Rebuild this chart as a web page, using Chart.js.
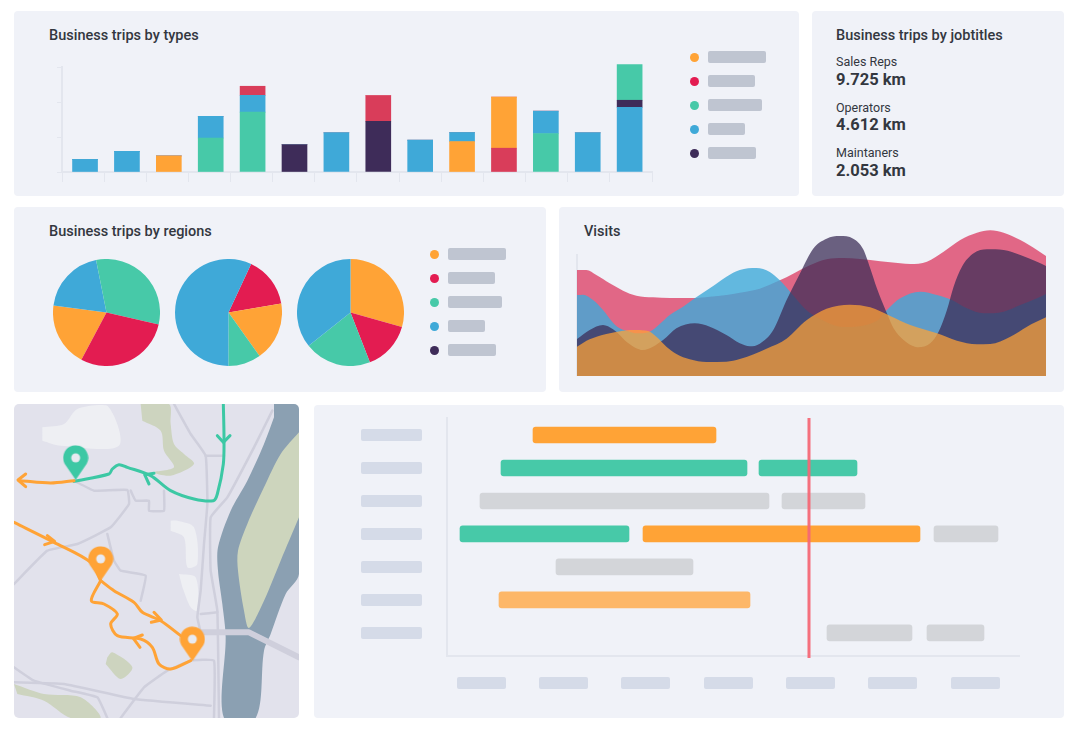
<!DOCTYPE html>
<html>
<head>
<meta charset="utf-8">
<title>Business trips dashboard</title>
<script src="https://cdn.jsdelivr.net/npm/chart.js@4/dist/chart.umd.min.js"></script>
<style>
html, body { margin: 0; padding: 0; background: #fff; }
body { width: 1076px; height: 729px; position: relative; overflow: hidden; font-family: Roboto, sans-serif; color: #33373f; }
.card { position: absolute; background: #f0f2f8; border-radius: 4px; }
.title { position: absolute; font-size: 14.5px; font-weight: 500; line-height: 18px; white-space: nowrap; }
.small { position: absolute; font-size: 12.5px; line-height: 16px; white-space: nowrap; }
.big { position: absolute; font-size: 16.5px; font-weight: 700; line-height: 20px; white-space: nowrap; }
.dot { position: absolute; width: 9px; height: 9px; border-radius: 50%; }
.stub { position: absolute; border-radius: 2px; }
canvas { position: absolute; display: block; }
</style>
</head>
<body>
<div class="card" style="left:14px;top:11px;width:785px;height:185px"></div>
<div class="card" style="left:812px;top:11px;width:252px;height:185px"></div>
<div class="card" style="left:14px;top:207px;width:532px;height:185px"></div>
<div class="card" style="left:559px;top:207px;width:505px;height:185px"></div>
<div class="card" style="left:314px;top:405px;width:750px;height:313px"></div>

<div class="title" style="left:49px;top:27px">Business trips by types</div>
<div class="title" style="left:836px;top:27px">Business trips by jobtitles</div>
<div class="title" style="left:49px;top:223px">Business trips by regions</div>
<div class="title" style="left:584px;top:223px">Visits</div>

<canvas id="typesChart" width="602" height="122" style="left:52px;top:60px"></canvas>
<canvas id="regionChart1" width="107" height="107" style="left:53px;top:259px"></canvas>
<canvas id="regionChart2" width="107" height="107" style="left:175px;top:259px"></canvas>
<canvas id="regionChart3" width="107" height="107" style="left:297px;top:259px"></canvas>
<canvas id="visitsChart" width="471" height="150" style="left:575px;top:226px"></canvas>
<canvas id="mapChart" width="285" height="314" style="left:14px;top:404px;border-radius:5px"></canvas>
<canvas id="ganttChart" width="583" height="256" style="left:437px;top:410px"></canvas>

<script>
const orange = '#ffa336';
const red = '#d93d5a';
const pieRed = '#e31c51';
const green = '#47c9a8';
const blue = '#3fa9d8';
const dark = '#3e2c59';
const grey = '#d3d5d9';
const paleOrange = '#fdb768';
const axisColor = '#e3e6ee';

// stacked bars. layers go from the bottom of the bar up
const tripCategories = [1, 2, 3, 4, 5, 6, 7, 8, 9, 10, 11, 12, 13, 14];
const bottomValues = [3.6, 5.9, 4.6, 9.7, 17.1, 7.8, 11.2, 14.5, 9.1, 8.7, 6.8, 11, 11.2, 18.5];
const bottomColors = [blue, blue, orange, green, green, dark, blue, dark, blue, orange, red, green, blue, blue];
const middleValues = [0, 0, 0, 6.2, 4.8, 0, 0, 7.3, 0, 2.6, 14.6, 6.4, 0, 2];
const middleColors = [blue, blue, blue, blue, blue, blue, blue, red, blue, blue, orange, blue, blue, dark];
const topValues = [0, 0, 0, 0, 2.6, 0, 0, 0, 0, 0, 0, 0, 0, 10.2];
const topColors = [red, red, red, red, red, red, red, red, red, red, red, red, red, green];
const tripTicks = [0.45, 1.456, 2.462, 3.468, 4.474, 5.48, 6.486, 7.492, 8.498, 9.504, 10.51, 11.516, 12.522, 13.528, 14.534];

// pies, clockwise from the start angle
const region1Values = [19.3, 19.8, 31.7, 29.2];
const region1Colors = [orange, blue, green, pieRed];
const region1Start = 208;
const region2Values = [15.4, 17.8, 9.9, 56.9];
const region2Colors = [pieRed, orange, green, blue];
const region2Start = 25;
const region3Values = [29.4, 14.7, 20.2, 35.7];
const region3Colors = [orange, pieRed, green, blue];
const region3Start = 0;

// visits, each curve has its own sample positions
const visitsRedX = [0, 28, 58, 98, 138, 178, 228, 278, 348, 398, 448, 488, 548, 608, 648, 698, 748, 798, 848, 879, 939, 999, 1049, 1099, 1149, 1199, 1239, 1279, 1329, 1379, 1406];
const visitsRedY = [318, 318, 303, 278, 256, 241, 236, 234, 234, 238, 243, 250, 262, 287, 307, 332, 350, 354, 351, 348, 341, 336, 343, 373, 408, 430, 437, 430, 408, 378, 360];
const visitsBlueX = [0, 18, 48, 78, 108, 128, 158, 178, 218, 248, 278, 318, 353, 398, 448, 488, 538, 578, 608, 648, 688, 718, 798, 898, 929, 969, 1029, 1079, 1124, 1169, 1219, 1279, 1329, 1379, 1406];
const visitsBlueY = [243, 244, 228, 198, 160, 143, 133, 128, 133, 156, 183, 208, 233, 263, 298, 318, 324, 312, 287, 242, 197, 177, 147, 165, 198, 233, 253, 243, 228, 203, 188, 193, 213, 233, 246];
const visitsDarkX = [0, 38, 78, 108, 128, 148, 198, 258, 298, 353, 398, 448, 488, 518, 548, 588, 628, 668, 708, 748, 788, 828, 858, 879, 899, 929, 949, 979, 1024, 1059, 1084, 1109, 1129, 1154, 1189, 1229, 1279, 1329, 1379, 1406];
const visitsDarkY = [111, 138, 153, 140, 123, 103, 78, 108, 143, 158, 148, 123, 98, 89, 97, 137, 227, 307, 382, 412, 420, 412, 380, 323, 263, 188, 143, 108, 86, 98, 133, 198, 268, 328, 368, 380, 378, 363, 343, 330];
const visitsOrangeX = [0, 38, 88, 138, 178, 213, 238, 268, 298, 338, 388, 448, 488, 568, 628, 688, 748, 818, 879, 939, 999, 1079, 1139, 1199, 1239, 1299, 1349, 1406];
const visitsOrangeY = [88, 110, 126, 136, 138, 135, 118, 88, 66, 50, 42, 43, 51, 82, 112, 167, 202, 214, 206, 180, 153, 128, 106, 95, 96, 118, 148, 176];
const visitsAxisTop = 366;

// gantt
const taskRows = [1, 2, 2, 3, 3, 4, 4, 4, 5, 6, 7, 7];
const taskStarts = [86, 54, 312, 33, 335, 13, 196, 487, 109, 52, 380, 480];
const taskEnds = [269, 300, 410, 322, 418, 182, 473, 551, 246, 303, 465, 537];
const taskColors = [orange, green, green, grey, grey, green, orange, grey, grey, paleOrange, grey, grey];
const todayMark = 362;

// map shapes, in map units
const river = [[780,0],[855,0],[855,510],[815,570],[770,690],[750,740],[725,942],[630,942],[635,700],[625,600],[612,500],[612,430],[650,320],[700,230],[750,120],[780,40]];
const island = [[855,85],[800,150],[750,250],[700,360],[672,440],[672,500],[690,620],[705,672],[750,590],[800,470],[855,340]];
const whiteAreas = [
  [[85,70],[150,60],[190,15],[280,5],[315,125],[140,125],[85,110]],
  [[470,350],[490,350],[540,370],[550,480],[520,490],[510,400],[470,380]],
  [[495,510],[545,520],[550,620],[530,610],[505,550]]
];
const parks = [
  [[380,0],[465,0],[470,60],[480,120],[510,150],[540,180],[470,215],[420,205],[480,190],[450,140],[440,80],[385,50]],
  [[280,760],[295,745],[355,790],[320,825],[275,780]],
  [[0,840],[90,870],[200,880],[260,942],[170,942],[90,890],[10,870]]
];
const roads = [
  [[480,0],[530,90],[575,155],[580,300],[570,420],[560,560],[550,640],[560,685]],
  [[775,20],[720,130],[640,280],[590,340],[590,500],[610,620],[615,942]],
  [[180,230],[240,260],[340,258],[345,300],[290,370],[190,420],[100,440],[0,540]],
  [[350,260],[365,290],[405,290],[405,320],[450,320],[450,260]],
  [[280,390],[300,470],[320,500],[395,515],[380,590]],
  [[575,155],[630,155]],
  [[0,790],[60,830],[170,860],[250,880],[280,942]],
  [[0,835],[150,840],[360,885],[590,905]],
  [[320,942],[390,850],[460,800],[530,770],[600,770],[600,942]],
  [[560,630],[610,625]]
];
const bridge = [[560,685],[705,685],[855,760]];
const greenRoute = [[628,0],[630,100],[628,180],[610,270],[598,290],[540,285],[470,260],[410,215],[340,190],[315,182],[295,195],[285,210],[180,232]];
const orangeRoutes = [
  [[180,230],[110,237],[20,230]],
  [[0,355],[120,415],[230,475],[260,530]],
  [[260,530],[300,560],[360,595],[385,625],[440,650],[500,695]],
  [[260,530],[232,590],[270,600],[310,630],[290,660],[310,695],[380,705],[415,730],[435,780],[470,795],[530,770]]
];
const greenArrows = [
  [[610,95],[628,115],[648,95]],
  [[420,208],[392,212],[405,240]]
];
const orangeArrows = [
  [[35,210],[12,228],[35,248]],
  [[100,395],[122,412],[92,422]],
  [[420,625],[442,648],[412,655]],
  [[385,693],[358,703],[378,730]]
];
const greenPins = [[185,175]];
const orangePins = [[260,478],[535,719]];

// the grey stand-ins for labels
const legendStubs = [58, 47, 54, 37, 48];
const legendColors = [orange, pieRed, green, blue, dark];
const ganttStubsLeft = [457, 539, 621, 704, 786, 868, 951];
const ganttStubRows = [435, 468, 501, 534, 567, 600, 633];

function addEl(cls, left, top, width, height, color) {
    const el = document.createElement('div');
    el.className = cls;
    el.style.cssText = `left:${left}px;top:${top}px;width:${width}px;height:${height}px;background:${color}`;
    document.body.appendChild(el);
}

function addLegend(dotX, firstY) {
    legendStubs.forEach((w, i) => {
        const y = firstY + i * 24;
        addEl('dot', dotX - 4.5, y - 4.5, 9, 9, legendColors[i]);
        addEl('stub', dotX + 14, y - 6, w, 12, '#bfc5d1');
    });
}
addLegend(694, 57);
addLegend(434, 254);
ganttStubRows.forEach(y => addEl('stub', 361, y - 6, 61, 12, '#d5dbe8'));
ganttStubsLeft.forEach(x => addEl('stub', x, 677, 49, 12, '#d5dbe8'));

function addText(cls, top, text) {
    const el = document.createElement('div');
    el.className = cls;
    el.style.left = '836px';
    el.style.top = top + 'px';
    el.textContent = text;
    document.body.appendChild(el);
}
addText('small', 54, 'Sales Reps');
addText('big', 70, '9.725 km');
addText('small', 100, 'Operators');
addText('big', 115, '4.612 km');
addText('small', 145, 'Maintaners');
addText('big', 161, '2.053 km');

Chart.defaults.animation = false;
Chart.defaults.responsive = false;
Chart.defaults.plugins.legend.display = false;
Chart.defaults.plugins.tooltip.enabled = false;

new Chart(document.getElementById('typesChart'), {
    type: 'bar',
    data: {
        labels: tripCategories,
        datasets: [
            { data: bottomValues, backgroundColor: bottomColors, clip: false, barThickness: 25 },
            { data: middleValues, backgroundColor: middleColors, clip: false, barThickness: 25 },
            { data: topValues, backgroundColor: topColors, clip: false, barThickness: 25 }
        ]
    },
    options: {
        layout: { padding: { top: 7, right: 2 } },
        scales: {
            x: {
                type: 'linear',
                offset: false,
                stacked: true,
                min: tripTicks[0],
                max: tripTicks[tripTicks.length - 1],
                afterBuildTicks(scale) { scale.ticks = tripTicks.map(v => ({ value: v })); },
                afterFit(scale) { scale.height = 10; },
                ticks: { display: false },
                border: { color: axisColor, width: 2 },
                grid: { offset: false, drawOnChartArea: false, color: axisColor, tickLength: 10 }
            },
            y: {
                stacked: true,
                min: 0,
                max: 30,
                afterFit(scale) { scale.width = 10; },
                ticks: { display: false, stepSize: 10 },
                border: { color: axisColor, width: 2 },
                grid: { drawOnChartArea: false, color: axisColor, tickLength: 5 }
            }
        }
    }
});

function drawPie(canvasId, values, colors, start) {
    new Chart(document.getElementById(canvasId), {
        type: 'pie',
        data: { labels: colors.map((c, i) => 'Region ' + (i + 1)), datasets: [{ data: values, backgroundColor: colors, borderWidth: 0 }] },
        options: { rotation: start }
    });
}
drawPie('regionChart1', region1Values, region1Colors, region1Start);
drawPie('regionChart2', region2Values, region2Colors, region2Start);
drawPie('regionChart3', region3Values, region3Colors, region3Start);

function toPoints(xs, ys) {
    return xs.map((x, i) => ({ x: x, y: ys[i] }));
}
function areaSet(xs, ys, color) {
    return { data: toPoints(xs, ys), backgroundColor: color, fill: 'origin', borderWidth: 0, pointRadius: 0, clip: false, cubicInterpolationMode: 'monotone' };
}

// first dataset ends up on top in a line chart
new Chart(document.getElementById('visitsChart'), {
    type: 'line',
    data: {
        datasets: [
            areaSet(visitsOrangeX, visitsOrangeY, 'rgba(255, 163, 54, 0.725)'),
            areaSet(visitsDarkX, visitsDarkY, 'rgba(59, 45, 86, 0.74)'),
            areaSet(visitsBlueX, visitsBlueY, 'rgba(63, 169, 216, 0.8)'),
            areaSet(visitsRedX, visitsRedY, 'rgba(218, 44, 85, 0.7)'),
            { data: [{ x: 0, y: 0 }, { x: 0, y: visitsAxisTop }], borderColor: axisColor, borderWidth: 2, pointRadius: 0, clip: false }
        ]
    },
    options: {
        layout: { padding: { left: 2 }, autoPadding: false },
        scales: {
            x: { type: 'linear', min: 0, max: 1406, display: false },
            y: { min: 0, max: 450, display: false }
        }
    }
});

function pinImage(color) {
    const c = document.createElement('canvas');
    c.width = 26;
    c.height = 35;
    const g = c.getContext('2d');
    g.fillStyle = color;
    g.beginPath();
    g.arc(13, 13, 12.5, Math.PI * 0.85, Math.PI * 0.15);
    g.lineTo(13, 35);
    g.closePath();
    g.fill();
    g.fillStyle = '#e8eaf0';
    g.beginPath();
    g.arc(13, 13, 4.5, 0, Math.PI * 2);
    g.fill();
    return c;
}

function xyPoints(list) {
    return list.map(p => ({ x: p[0], y: p[1] }));
}
function shapeSet(list, color) {
    return { data: xyPoints(list), showLine: true, fill: 'shape', backgroundColor: color, borderColor: color, borderWidth: 0, pointRadius: 0, tension: 0.3 };
}
function lineSet(list, color, width, tension) {
    return { data: xyPoints(list), showLine: true, borderColor: color, borderWidth: width, pointRadius: 0, tension: tension, borderCapStyle: 'round', borderJoinStyle: 'round' };
}

// scatter draws the first dataset on top too, so the list runs top layer first
new Chart(document.getElementById('mapChart'), {
    type: 'scatter',
    data: {
        datasets: [
            { data: xyPoints(greenPins), pointStyle: pinImage('#3cc8a4'), pointRadius: 13 },
            { data: xyPoints(orangePins), pointStyle: pinImage(orange), pointRadius: 13 },
            ...orangeArrows.map(a => lineSet(a, orange, 3, 0)),
            ...greenArrows.map(a => lineSet(a, '#3cc8a4', 3, 0)),
            ...orangeRoutes.map(r => lineSet(r, orange, 3, 0.3)),
            lineSet(greenRoute, '#3cc8a4', 3, 0.3),
            lineSet(bridge, '#cfcfdc', 6, 0),
            shapeSet(island, '#cdd5bd'),
            shapeSet(river, '#8ba0b2'),
            ...roads.map(r => lineSet(r, '#cfcfdc', 2.5, 0.1)),
            ...parks.map(a => shapeSet(a, '#cdd4bf')),
            ...whiteAreas.map(a => shapeSet(a, '#eeeff3'))
        ]
    },
    options: {
        layout: { padding: 0, autoPadding: false },
        scales: {
            x: { type: 'linear', min: 0, max: 855, display: false },
            y: { type: 'linear', min: 0, max: 942, reverse: true, display: false }
        }
    },
    plugins: [{
        id: 'mapBackground',
        beforeDraw(chart) {
            chart.ctx.fillStyle = '#e2e2ec';
            chart.ctx.fillRect(0, 0, chart.width, chart.height);
        }
    }]
});

new Chart(document.getElementById('ganttChart'), {
    type: 'bar',
    data: {
        datasets: [{
            data: taskRows.map((row, i) => ({ x: [taskStarts[i], taskEnds[i]], y: row })),
            backgroundColor: taskColors,
            borderRadius: 3,
            borderSkipped: false,
            barThickness: 16
        }]
    },
    options: {
        indexAxis: 'y',
        layout: { padding: { top: 8 } },
        scales: {
            x: {
                type: 'linear',
                min: 0,
                max: 573,
                afterFit(scale) { scale.height = 10; },
                ticks: { display: false },
                border: { color: axisColor, width: 2 },
                grid: { display: false }
            },
            y: {
                type: 'linear',
                offset: false,
                reverse: true,
                min: 0.485,
                max: 7.7,
                afterFit(scale) { scale.width = 10; },
                ticks: { display: false },
                border: { color: axisColor, width: 2 },
                grid: { display: false }
            }
        }
    },
    plugins: [{
        id: 'todayLine',
        afterDatasetsDraw(chart) {
            const x = chart.scales.x.getPixelForValue(todayMark);
            const ctx = chart.ctx;
            ctx.save();
            ctx.strokeStyle = 'rgba(244, 104, 118, 0.95)';
            ctx.lineWidth = 3;
            ctx.beginPath();
            ctx.moveTo(x, chart.chartArea.top);
            ctx.lineTo(x, chart.chartArea.bottom + 2);
            ctx.stroke();
            ctx.restore();
        }
    }]
});
</script>
</body>
</html>
